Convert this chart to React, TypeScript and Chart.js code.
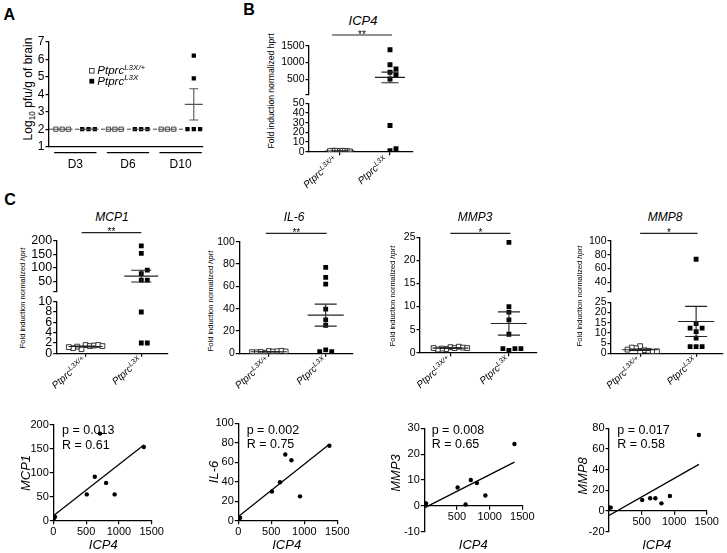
import React, { useEffect, useRef } from 'react';
import { Chart, registerables } from 'chart.js';

Chart.register(...registerables);

const FONT = '"Liberation Sans", Arial, Helvetica, sans-serif';

/* ---------------- Panel A data (Log10 pfu/g of brain) ---------------- */
const aDays = ['D3', 'D6', 'D10'];
const aHetD3 = [2, 2, 2];
const aHetD6 = [2, 2, 2];
const aHetD10 = [2, 2, 2];
const aKoD3 = [2, 2, 2];
const aKoD6 = [2, 2, 2];
const aKoD10 = [2, 6.2, 4.9, 2, 2];
const aYTicks = [1, 2, 3, 4, 5, 6, 7];
const aDetectionLimit = 2;

/* ---------------- genotype labels ---------------- */
const genoBase = ['Ptprc', 'Ptprc'];
const genoSup = ['L3X/+', 'L3X'];

/* ---------------- Panel B / C data (fold induction normalized hprt) ---------------- */
const icp4Het = [0.6, 0.9, 0.3, 0.7, 1.0, 0.4, 0.8, 0.2, 0.5];
const icp4Ko = [1380, 935, 805, 712, 632, 510, 27, 1, 3];
const mcp1Het = [1.6, 1.4, 0.8, 1.5, 1.3, 1.6, 1.0, 1.4, 1.2];
const mcp1Ko = [154, 55, 79, 182, 92, 55, 8, 2, 2];
const il6Het = [2.0, 1.5, 0.5, 1.8, 1.2, 2.2, 0.8, 1.6, 1.0];
const il6Ko = [77, 25, 62, 68, 39.5, 30, 3, 1.5, 1.5];
const mmp3Het = [1.2, 1.0, 0.8, 1.3, 0.9, 1.1, 0.7, 1.0, 1.0];
const mmp3Ko = [23.9, 4.0, 8.8, 10.0, 0.5, 7.1, 0.9, 0.9, 0.9];
const mmp8Het = [3.5, 1.5, 0.5, 2.5, 1.2, 2.8, 0.8, 1.8, 1.0];
const mmp8Ko = [73.5, 14.5, 7.4, 12.3, 12.3, 10.6, 3.3, 3.3, 3.3];

const icp4Sig = '**';
const mcp1Sig = '**';
const il6Sig = '**';
const mmp3Sig = '*';
const mmp8Sig = '*';

/* tick values */
const icp4TicksTop = [50, 500, 1000, 1500];
const icp4TicksBottom = [0, 10, 20, 30, 40, 50];
const mcp1TicksTop = [13, 50, 100, 150, 200];
const mcp1TicksBottom = [0, 2, 4, 6, 8, 10];
const il6Ticks = [0, 20, 40, 60, 80, 100];
const mmp3Ticks = [0, 5, 10, 15, 20, 25];
const mmp8TicksTop = [26.3, 40, 60, 80, 100];
const mmp8TicksBottom = [0, 5, 10, 15, 20, 25];

/* correlation panels */
const corrXTicks = [0, 500, 1000, 1500];
const corrXTicksNoZero = [500, 1000, 1500];
const mcp1CorrTicks = [0, 50, 100, 150, 200];
const il6CorrTicks = [0, 20, 40, 60, 80, 100];
const mmp3CorrTicks = [-10, 0, 10, 20, 30];
const mmp8CorrTicks = [-20, 0, 20, 40, 60, 80];
const mcp1Stats = ['p = 0.013', 'R = 0.61'];
const il6Stats = ['p = 0.002', 'R = 0.75'];
const mmp3Stats = ['p = 0.008', 'R = 0.65'];
const mmp8Stats = ['p = 0.017', 'R = 0.58'];

/* ---------------- helpers ---------------- */
function swarm(values: number[], toPx: (v: number) => number, thr: number): number[] {
  const seq = [0, 1, -1, 2, -2, 3, -3, 4, -4, 5, -5, 6, -6, 7, -7];
  const placed: { py: number; k: number }[] = [];
  return values.map((v) => {
    const py = toPx(v);
    const used = new Set(placed.filter((p) => Math.abs(p.py - py) < thr).map((p) => p.k));
    const k = seq.find((s) => !used.has(s)) ?? 0;
    placed.push({ py, k });
    return k;
  });
}

function meanSem(vals: number[]) {
  const n = vals.length;
  const m = vals.reduce((a, b) => a + b, 0) / n;
  const sd = Math.sqrt(vals.reduce((a, v) => a + (v - m) * (v - m), 0) / (n - 1));
  return { m, sem: sd / Math.sqrt(n) };
}

function linFit(xs: number[], ys: number[]) {
  const n = xs.length;
  const mx = xs.reduce((a, b) => a + b, 0) / n;
  const my = ys.reduce((a, b) => a + b, 0) / n;
  let sxy = 0;
  let sxx = 0;
  for (let i = 0; i < n; i++) {
    sxy += (xs[i] - mx) * (ys[i] - my);
    sxx += (xs[i] - mx) * (xs[i] - mx);
  }
  const b = sxy / sxx;
  return { a: my - b * mx, b };
}

function drawMeanSem(ctx: any, ca: any, xs: any, ys: any, groups: [number, number[]][], half: number, semHalf: number, color: string) {
  ctx.save();
  ctx.beginPath();
  ctx.rect(ca.left - 40, ca.top, ca.right - ca.left + 80, ca.bottom - ca.top);
  ctx.clip();
  ctx.strokeStyle = color;
  ctx.lineWidth = 1.1;
  const line = (x1: number, y1: number, x2: number, y2: number) => {
    ctx.beginPath();
    ctx.moveTo(x1, y1);
    ctx.lineTo(x2, y2);
    ctx.stroke();
  };
  for (const [gx, vals] of groups) {
    const { m, sem } = meanSem(vals);
    const cx = xs.getPixelForValue(gx);
    const ym = ys.getPixelForValue(m);
    line(cx - half, ym, cx + half, ym);
    if (sem > 0) {
      const yt = ys.getPixelForValue(m + sem);
      const yb = ys.getPixelForValue(m - sem);
      line(cx, yt, cx, yb);
      line(cx - semHalf, yt, cx + semHalf, yt);
      line(cx - semHalf, yb, cx + semHalf, yb);
    }
  }
  ctx.restore();
}

function drawSup(ctx: any, base: string, sup: string, x: number, y: number, size: number, supSize: number, italic: boolean, align: string, rot: number, raise: number) {
  ctx.save();
  ctx.translate(x, y);
  if (rot) ctx.rotate(rot);
  const fb = `${italic ? 'italic ' : ''}${size}px ${FONT}`;
  const fs = `${italic ? 'italic ' : ''}${supSize}px ${FONT}`;
  ctx.font = fb;
  const wb = ctx.measureText(base).width;
  ctx.font = fs;
  const ws = ctx.measureText(sup).width;
  const total = wb + ws;
  const sx = align === 'right' ? -total : align === 'center' ? -total / 2 : 0;
  ctx.textAlign = 'left';
  ctx.textBaseline = 'alphabetic';
  ctx.fillStyle = '#000';
  ctx.font = fb;
  ctx.fillText(base, sx, 0);
  ctx.font = fs;
  ctx.fillText(sup, sx + wb, -raise);
  ctx.restore();
}

type Area = { x0: number; y0: number; x1: number; y1: number };
type Margin = { l: number; t: number; r: number; b: number };

function ChartCanvas({ area, margin, make }: { area: Area; margin: Margin; make: (m: Margin, off: { left: number; top: number }) => any }) {
  const ref = useRef<HTMLCanvasElement>(null);
  const left = Math.floor(area.x0 - margin.l);
  const top = Math.floor(area.y0 - margin.t);
  const width = Math.ceil(area.x1 + margin.r - left);
  const height = Math.ceil(area.y1 + margin.b - top);
  const m = { l: area.x0 - left, t: area.y0 - top, r: left + width - area.x1, b: top + height - area.y1 };
  useEffect(() => {
    const chart = new Chart(ref.current as HTMLCanvasElement, make(m, { left, top }));
    return () => chart.destroy();
  }, []);
  return <canvas ref={ref} width={width} height={height} style={{ position: 'absolute', left, top, width, height }} />;
}

function baseOptions(m: Margin, scales: any, padBottom = 0) {
  return {
    animation: false,
    responsive: false,
    maintainAspectRatio: false,
    devicePixelRatio: 1,
    events: [],
    layout: { padding: { left: 0, top: m.t, right: m.r, bottom: padBottom } },
    plugins: { legend: { display: false }, tooltip: { enabled: false }, title: { display: false } },
    scales,
  };
}

function yAxis(min: number, max: number, ticks: number[], blanks: number[], size: number, width: number) {
  return {
    type: 'linear',
    position: 'left',
    min,
    max,
    afterBuildTicks: (s: any) => {
      s.ticks = ticks.map((v) => ({ value: v }));
    },
    afterFit: (s: any) => {
      s.width = width;
    },
    grid: { display: true, drawOnChartArea: false, drawTicks: true, tickLength: 3.5, color: '#000', lineWidth: 1.2 },
    border: { display: true, color: '#000', width: 1.3 },
    ticks: {
      color: '#000',
      font: { family: FONT, size },
      padding: 1,
      autoSkip: false,
      callback: (v: number) => (blanks.includes(v) ? '' : String(v)),
    },
  };
}

function xAxis(min: number, max: number, ticks: number[], o: { show: boolean; labels?: boolean; size?: number; height?: number; position?: any }) {
  const cfg: any = {
    type: 'linear',
    min,
    max,
    position: o.position ?? 'bottom',
    afterBuildTicks: (s: any) => {
      s.ticks = ticks.map((v) => ({ value: v }));
    },
    grid: { display: o.show, drawOnChartArea: false, drawTicks: true, tickLength: 3.5, color: '#000', lineWidth: 1.2 },
    border: { display: o.show, color: '#000', width: 1.3 },
    ticks: {
      display: !!o.labels,
      color: '#000',
      font: { family: FONT, size: o.size ?? 11 },
      padding: 1,
      autoSkip: false,
      maxRotation: 0,
      minRotation: 0,
      callback: (v: number) => String(v),
    },
  };
  if (o.height !== undefined) {
    const h = o.height;
    cfg.afterFit = (s: any) => {
      s.height = h;
    };
  }
  return cfg;
}

/* ---------------- Panel A ---------------- */
function PanelA() {
  const area = { x0: 49, y0: 41.7, x1: 203, y1: 146.7 };
  const xRange = [-0.5, 5.35];
  const yMin = aYTicks[0];
  const yMax = aYTicks[aYTicks.length - 1];
  const pxPerUnit = (area.x1 - area.x0) / (xRange[1] - xRange[0]);
  const toPx = (v: number) => area.y1 - ((v - yMin) / (yMax - yMin)) * (area.y1 - area.y0);
  const het = [aHetD3, aHetD6, aHetD10];
  const ko = [aKoD3, aKoD6, aKoD10];
  const pts = (groups: number[][], offset: number) =>
    groups.flatMap((vals, d) => {
      const k = swarm(vals, toPx, 4);
      return vals.map((v, i) => ({ x: 2 * d + offset + (k[i] * 6.3) / pxPerUnit, y: v }));
    });
  const make = (m: Margin, off: { left: number; top: number }) => ({
    type: 'scatter',
    data: {
      datasets: [
        { data: pts(het, 0), pointStyle: 'rect', pointRadius: 3, backgroundColor: '#fff', borderColor: '#333', borderWidth: 0.9 },
        { data: pts(ko, 1), pointStyle: 'rect', pointRadius: 3, backgroundColor: '#000', borderColor: '#000', borderWidth: 0 },
      ],
    },
    options: baseOptions(m, {
      x: xAxis(xRange[0], xRange[1], [], { show: true, height: m.b }),
      y: yAxis(yMin, yMax, aYTicks, [], 12, m.l),
    }),
    plugins: [
      {
        id: 'aBack',
        beforeDatasetsDraw(chart: any) {
          const { ctx, chartArea: ca } = chart;
          const y = chart.scales.y.getPixelForValue(aDetectionLimit);
          ctx.save();
          ctx.strokeStyle = '#444';
          ctx.lineWidth = 1;
          ctx.setLineDash([4, 2.5]);
          ctx.beginPath();
          ctx.moveTo(ca.left, y);
          ctx.lineTo(ca.right, y);
          ctx.stroke();
          ctx.restore();
        },
      },
      {
        id: 'aDecor',
        afterDatasetsDraw(chart: any) {
          const { ctx, chartArea: ca } = chart;
          const xs = chart.scales.x;
          const ys = chart.scales.y;
          const groups: [number, number[]][] = [];
          het.forEach((v, d) => groups.push([2 * d, v]));
          ko.forEach((v, d) => groups.push([2 * d + 1, v]));
          drawMeanSem(ctx, ca, xs, ys, groups, 9, 4.5, '#555');
          ctx.save();
          ctx.strokeStyle = '#000';
          ctx.lineWidth = 1.2;
          ctx.fillStyle = '#000';
          ctx.font = `12px ${FONT}`;
          ctx.textAlign = 'center';
          ctx.textBaseline = 'alphabetic';
          aDays.forEach((day, d) => {
            const xa = xs.getPixelForValue(2 * d) - 8;
            const xb = xs.getPixelForValue(2 * d + 1) + 8;
            ctx.beginPath();
            ctx.moveTo(xa, ca.bottom + 6);
            ctx.lineTo(xb, ca.bottom + 6);
            ctx.stroke();
            ctx.fillText(day, xs.getPixelForValue(2 * d + 0.5), ca.bottom + 21);
          });
          // legend
          const rows = [
            { cy: 70.8, base: 74, open: true },
            { cy: 81.2, base: 84.7, open: false },
          ];
          rows.forEach((r, i) => {
            const cx = 91.8 - off.left;
            const cy = r.cy - off.top;
            if (r.open) {
              ctx.fillStyle = '#fff';
              ctx.fillRect(cx - 2.3, cy - 2.3, 4.6, 4.6);
              ctx.strokeStyle = '#333';
              ctx.lineWidth = 0.9;
              ctx.strokeRect(cx - 2.3, cy - 2.3, 4.6, 4.6);
            } else {
              ctx.fillStyle = '#000';
              ctx.fillRect(cx - 2.4, cy - 2.4, 4.8, 4.8);
            }
            drawSup(ctx, genoBase[i], genoSup[i], 97.3 - off.left, r.base - off.top, 11.5, 8, true, 'left', 0, 4.5);
          });
          ctx.restore();
        },
      },
    ],
  });
  return <ChartCanvas area={area} margin={{ l: 40, t: 12, r: 8, b: 30 }} make={make} />;
}

/* ---------------- Dot plots (B and C) ---------------- */
type Seg = { min: number; max: number; ticks: number[]; blanks: number[]; area: Area };
type DotSpec = {
  het: number[];
  ko: number[];
  segs: Seg[];
  xRange: [number, number];
  tickFont: number;
  sig: string;
  sigY: number;
  sigExt: [number, number];
  meanHalf: number;
  semHalf: number;
  hetStep: number;
  koStep: number;
  radius: number;
  labelOff: [number, number];
};

const LABEL_ROT = (-42 * Math.PI) / 180;

function DotPlot(p: DotSpec) {
  const segs = p.segs;
  const a0 = segs[0].area;
  const pxPerUnit = (a0.x1 - a0.x0) / (p.xRange[1] - p.xRange[0]);
  const toPx = (v: number) => {
    const s = segs.find((q) => v >= q.min) ?? segs[segs.length - 1];
    return s.area.y1 - ((v - s.min) / (s.max - s.min)) * (s.area.y1 - s.area.y0);
  };
  const hk = swarm(p.het, toPx, 5);
  const kk = swarm(p.ko, toPx, 5);
  const hetPts = p.het.map((v, i) => ({ x: (hk[i] * p.hetStep) / pxPerUnit, y: v }));
  const koPts = p.ko.map((v, i) => ({ x: 1 + (kk[i] * p.koStep) / pxPerUnit, y: v }));

  return (
    <>
      {segs.map((s, idx) => {
        const isFirst = idx === 0;
        const isLast = idx === segs.length - 1;
        const inSeg = (q: { y: number }) => q.y >= s.min && q.y <= s.max;
        const margin = { l: 45, r: 10, t: isFirst ? s.area.y0 - p.sigY + 12 : 8, b: isLast ? 50 : 8 };
        const make = (m: Margin, off: { left: number; top: number }) => ({
          type: 'scatter',
          data: {
            datasets: [
              { data: hetPts.filter(inSeg), pointStyle: 'rect', pointRadius: p.radius, backgroundColor: '#fff', borderColor: '#222', borderWidth: 0.9 },
              { data: koPts.filter(inSeg), pointStyle: 'rect', pointRadius: p.radius, backgroundColor: '#000', borderColor: '#000', borderWidth: 0 },
            ],
          },
          options: baseOptions(m, {
            x: xAxis(p.xRange[0], p.xRange[1], isLast ? [0, 1] : [], { show: isLast, height: m.b }),
            y: yAxis(s.min, s.max, s.ticks, s.blanks, p.tickFont, m.l),
          }),
          plugins: [
            {
              id: 'dotDecor',
              afterDatasetsDraw(chart: any) {
                const { ctx, chartArea: ca } = chart;
                const xs = chart.scales.x;
                const ys = chart.scales.y;
                drawMeanSem(ctx, ca, xs, ys, [[0, p.het], [1, p.ko]], p.meanHalf, p.semHalf, '#222');
                if (isFirst) {
                  const y = p.sigY - off.top;
                  const xa = xs.getPixelForValue(0) + p.sigExt[0];
                  const xb = xs.getPixelForValue(1) + p.sigExt[1];
                  ctx.save();
                  ctx.strokeStyle = '#222';
                  ctx.lineWidth = 1.2;
                  ctx.beginPath();
                  ctx.moveTo(xa, y);
                  ctx.lineTo(xb, y);
                  ctx.stroke();
                  ctx.font = `10px ${FONT}`;
                  ctx.textAlign = 'center';
                  ctx.textBaseline = 'alphabetic';
                  ctx.fillStyle = '#000';
                  ctx.fillText(p.sig, (xa + xb) / 2, y + 2.5);
                  ctx.restore();
                }
                if (isLast) {
                  for (let g = 0; g < 2; g++) {
                    const tx = xs.getPixelForValue(g);
                    drawSup(ctx, genoBase[g], genoSup[g], tx + p.labelOff[0], ca.bottom + p.labelOff[1], 10, 7, true, 'right', LABEL_ROT, 3.5);
                  }
                }
              },
            },
          ],
        });
        return <ChartCanvas key={idx} area={s.area} margin={margin} make={make} />;
      })}
    </>
  );
}

/* ---------------- Correlation plots ---------------- */
type CorrSpec = {
  xs: number[];
  ys: number[];
  area: Area;
  yTicks: number[];
  xTicks: number[];
  xAtZero: boolean;
};

function CorrPlot(c: CorrSpec) {
  const fit = linFit(c.xs, c.ys);
  const xmin = Math.min(...c.xs);
  const xmax = Math.max(...c.xs);
  const yMin = c.yTicks[0];
  const yMax = c.yTicks[c.yTicks.length - 1];
  const margin = { l: 38, t: 10, r: 18, b: 22 };
  const make = (m: Margin) => ({
    type: 'scatter',
    data: {
      datasets: [
        { data: c.xs.map((x, i) => ({ x, y: c.ys[i] })), pointStyle: 'circle', pointRadius: 2.2, backgroundColor: '#000', borderWidth: 0 },
        {
          data: [
            { x: xmin, y: fit.a + fit.b * xmin },
            { x: xmax, y: fit.a + fit.b * xmax },
          ],
          showLine: true,
          pointRadius: 0,
          borderColor: '#000',
          borderWidth: 1.3,
          fill: false,
        },
      ],
    },
    options: baseOptions(
      m,
      {
        x: c.xAtZero
          ? xAxis(0, 1500, c.xTicks, { show: true, labels: true, size: 11, position: { y: 0 } })
          : xAxis(0, 1500, c.xTicks, { show: true, labels: true, size: 11, height: m.b }),
        y: yAxis(yMin, yMax, c.yTicks, [], 11, m.l),
      },
      c.xAtZero ? m.b : 0,
    ),
  });
  return <ChartCanvas area={c.area} margin={margin} make={make} />;
}

/* ---------------- text helper ---------------- */
function Txt({ x, y, size, italic, bold, rot, align = 'center', children }: any) {
  const tx = align === 'center' ? '-50%' : align === 'left' ? '0' : '-100%';
  return (
    <div
      style={{
        position: 'absolute',
        left: x,
        top: y,
        transform: `translate(${tx},-50%)${rot ? ` rotate(${rot}deg)` : ''}`,
        fontFamily: FONT,
        fontSize: size,
        fontStyle: italic ? 'italic' : 'normal',
        fontWeight: bold ? 700 : 400,
        lineHeight: 1,
        whiteSpace: 'nowrap',
        color: '#000',
      }}
    >
      {children}
    </div>
  );
}

const cXRange: [number, number] = [-0.52, 1.48];

export default function App() {
  const foldLabel = (
    <>
      Fold induction normalized <i>hprt</i>
    </>
  );
  return (
    <div style={{ position: 'fixed', left: 0, top: 0, width: 727, height: 553, background: '#fff', overflow: 'hidden' }}>
      <Txt x={9.2} y={15.2} size={16} bold>A</Txt>
      <Txt x={249} y={10} size={16} bold>B</Txt>
      <Txt x={10} y={200} size={16} bold>C</Txt>

      {/* Panel A */}
      <Txt x={28.3} y={89} size={12} rot={-90}>
        Log<span style={{ fontSize: '0.7em', position: 'relative', top: '0.35em' }}>10</span> pfu/g of brain
      </Txt>
      <PanelA />

      {/* Panel B */}
      <Txt x={363} y={20} size={13} italic>ICP4</Txt>
      <Txt x={271} y={90.7} size={8.6} rot={-90}>Fold induction normalized hprt</Txt>
      <DotPlot
        het={icp4Het}
        ko={icp4Ko}
        segs={[
          { min: 50, max: 1500, ticks: icp4TicksTop, blanks: [50], area: { x0: 309, y0: 45.7, x1: 413, y1: 94.4 } },
          { min: 0, max: 50, ticks: icp4TicksBottom, blanks: [], area: { x0: 309, y0: 103.3, x1: 413, y1: 151.7 } },
        ]}
        xRange={[-0.62, 1.46]}
        tickFont={10.5}
        sig={icp4Sig}
        sigY={35}
        sigExt={[-8, 2]}
        meanHalf={15}
        semHalf={8.5}
        hetStep={2.5}
        koStep={6}
        radius={3.5}
        labelOff={[-2, 9]}
      />

      {/* Panel C dot plots */}
      <Txt x={112} y={216.7} size={12} italic>MCP1</Txt>
      <Txt x={22.7} y={298} size={7.5} rot={-90}>{foldLabel}</Txt>
      <DotPlot
        het={mcp1Het}
        ko={mcp1Ko}
        segs={[
          { min: 13, max: 200, ticks: mcp1TicksTop, blanks: [13], area: { x0: 56.7, y0: 241, x1: 168, y1: 291.7 } },
          { min: 0, max: 10, ticks: mcp1TicksBottom, blanks: [], area: { x0: 56.7, y0: 301.7, x1: 168, y1: 353.3 } },
        ]}
        xRange={cXRange}
        tickFont={12.5}
        sig={mcp1Sig}
        sigY={232.7}
        sigExt={[-4, 0]}
        meanHalf={17}
        semHalf={10}
        hetStep={4.2}
        koStep={6}
        radius={3.4}
        labelOff={[1, 8]}
      />

      <Txt x={294} y={216.7} size={12} italic>IL-6</Txt>
      <Txt x={210.7} y={301} size={7.5} rot={-90}>{foldLabel}</Txt>
      <DotPlot
        het={il6Het}
        ko={il6Ko}
        segs={[{ min: 0, max: 100, ticks: il6Ticks, blanks: [], area: { x0: 239.3, y0: 241.7, x1: 353, y1: 353.3 } }]}
        xRange={cXRange}
        tickFont={10.5}
        sig={il6Sig}
        sigY={233.3}
        sigExt={[-3, 1]}
        meanHalf={18}
        semHalf={11}
        hetStep={4.2}
        koStep={6}
        radius={3.4}
        labelOff={[1, 8]}
      />

      <Txt x={475} y={216.7} size={12} italic>MMP3</Txt>
      <Txt x={392.7} y={296} size={7.5} rot={-90}>{foldLabel}</Txt>
      <DotPlot
        het={mmp3Het}
        ko={mmp3Ko}
        segs={[{ min: 0, max: 25, ticks: mmp3Ticks, blanks: [], area: { x0: 420, y0: 237.3, x1: 537, y1: 352.7 } }]}
        xRange={cXRange}
        tickFont={10.5}
        sig={mmp3Sig}
        sigY={233.3}
        sigExt={[0, 1.5]}
        meanHalf={18}
        semHalf={11}
        hetStep={4.2}
        koStep={6}
        radius={3.4}
        labelOff={[1, 8]}
      />

      <Txt x={665} y={216.7} size={12} italic>MMP8</Txt>
      <Txt x={580} y={296} size={7.5} rot={-90}>{foldLabel}</Txt>
      <DotPlot
        het={mmp8Het}
        ko={mmp8Ko}
        segs={[
          { min: 26.3, max: 100, ticks: mmp8TicksTop, blanks: [26.3], area: { x0: 611, y0: 241, x1: 723, y1: 291.7 } },
          { min: 0, max: 25, ticks: mmp8TicksBottom, blanks: [], area: { x0: 611, y0: 302.3, x1: 723, y1: 353.3 } },
        ]}
        xRange={cXRange}
        tickFont={10.5}
        sig={mmp8Sig}
        sigY={233.3}
        sigExt={[0, 1.5]}
        meanHalf={18}
        semHalf={11}
        hetStep={4.2}
        koStep={6}
        radius={3.4}
        labelOff={[1, 8]}
      />

      {/* Panel C correlation plots */}
      <CorrPlot xs={icp4Ko} ys={mcp1Ko} area={{ x0: 53.3, y0: 425, x1: 151.7, y1: 520.7 }} yTicks={mcp1CorrTicks} xTicks={corrXTicks} xAtZero={false} />
      <Txt x={62} y={429.7} size={12.5} align="left">{mcp1Stats[0]}</Txt>
      <Txt x={62} y={444.5} size={12.5} align="left">{mcp1Stats[1]}</Txt>
      <Txt x={25} y={473} size={13} italic rot={-90}>MCP1</Txt>
      <Txt x={103.3} y={544} size={13} italic>ICP4</Txt>

      <CorrPlot xs={icp4Ko} ys={il6Ko} area={{ x0: 238.3, y0: 423.3, x1: 337.3, y1: 520.7 }} yTicks={il6CorrTicks} xTicks={corrXTicks} xAtZero={false} />
      <Txt x={246.7} y={429.5} size={12.5} align="left">{il6Stats[0]}</Txt>
      <Txt x={246.7} y={444.3} size={12.5} align="left">{il6Stats[1]}</Txt>
      <Txt x={213} y={472} size={13} italic rot={-90}>IL-6</Txt>
      <Txt x={286.7} y={544} size={13} italic>ICP4</Txt>

      <CorrPlot xs={icp4Ko} ys={mmp3Ko} area={{ x0: 424.3, y0: 428.3, x1: 522.3, y1: 531.7 }} yTicks={mmp3CorrTicks} xTicks={corrXTicksNoZero} xAtZero={true} />
      <Txt x={431.7} y={429.5} size={12.5} align="left">{mmp3Stats[0]}</Txt>
      <Txt x={431.7} y={444.3} size={12.5} align="left">{mmp3Stats[1]}</Txt>
      <Txt x={395} y={473} size={13} italic rot={-90}>MMP3</Txt>
      <Txt x={473.3} y={544} size={13} italic>ICP4</Txt>

      <CorrPlot xs={icp4Ko} ys={mmp8Ko} area={{ x0: 609, y0: 428.3, x1: 706.7, y1: 531.7 }} yTicks={mmp8CorrTicks} xTicks={corrXTicksNoZero} xAtZero={true} />
      <Txt x={617.3} y={429.5} size={12.5} align="left">{mmp8Stats[0]}</Txt>
      <Txt x={617.3} y={444.3} size={12.5} align="left">{mmp8Stats[1]}</Txt>
      <Txt x={581.7} y={476} size={13} italic rot={-90}>MMP8</Txt>
      <Txt x={656.7} y={544} size={13} italic>ICP4</Txt>
    </div>
  );
}
